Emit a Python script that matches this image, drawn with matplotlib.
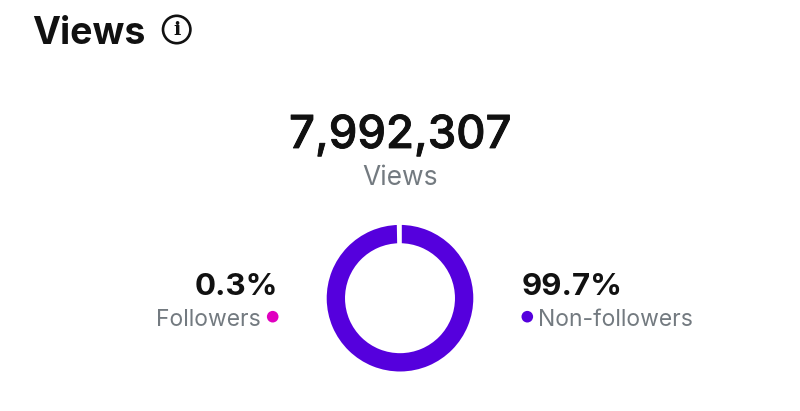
import matplotlib.pyplot as plt
import matplotlib.patheffects as pe
from matplotlib.patches import Circle

shares = [0.3, 99.7]
share_colors = ["#e000c0", "#5500dd"]
labels = ["Followers", "Non-followers"]
share_labels = ["0.3%", "99.7%"]
total = "7,992,307"

plt.rcParams["font.family"] = ["Inter", "DejaVu Sans"]

fig = plt.figure(figsize=(8, 4.11), dpi=100)
ax = fig.add_axes([0, 0, 1, 1])
ax.set_xlim(0, 800)
ax.set_ylim(411, 0)
ax.axis("off")

# donut, white edge makes the gap at the top
pie_ax = fig.add_axes([324.9 / 800, 1 - 373.3 / 411, 150.2 / 800, 150.2 / 411])
pie_ax.pie(shares, colors=share_colors, startangle=90, counterclock=True,
           radius=1, wedgeprops=dict(width=0.292, edgecolor="white", linewidth=2.6))
pie_ax.set_xlim(-1, 1)
pie_ax.set_ylim(-1, 1)

# header
ax.text(32.5, 44, "Views", fontsize=27, fontweight="bold", color="#111111", va="baseline", ha="left")
ax.add_patch(Circle((176.7, 29.5), 13.7, fill=False, edgecolor="#111111", linewidth=1.9))
ax.text(176.7, 30, "i", fontsize=14, fontweight="bold", family="DejaVu Serif",
        color="#111111", ha="center", va="center")

# the big number is a bit heavier than Inter medium
big = ax.text(400, 148, total, fontsize=32.7, fontweight="medium", color="#111111", ha="center", va="baseline")
big.set_path_effects([pe.withStroke(linewidth=0.6, foreground="#111111")])
ax.text(400, 185, "Views", fontsize=19, color="#737a80", ha="center", va="baseline")

# left label
ax.text(278, 295, share_labels[0], fontsize=22.5, fontweight="bold", color="#111111", ha="right", va="baseline")
ax.text(261, 326, labels[0], fontsize=16.5, color="#737a80", ha="right", va="baseline")
ax.add_patch(Circle((272.7, 316.7), 5.8, color=share_colors[0], linewidth=0))

# right label
ax.text(522, 295, share_labels[1], fontsize=22.5, fontweight="bold", color="#111111", ha="left", va="baseline")
ax.text(538, 326, labels[1], fontsize=16.5, color="#737a80", ha="left", va="baseline")
ax.add_patch(Circle((527.3, 316.7), 5.8, color=share_colors[1], linewidth=0))

fig.savefig("out.png", dpi=100)
